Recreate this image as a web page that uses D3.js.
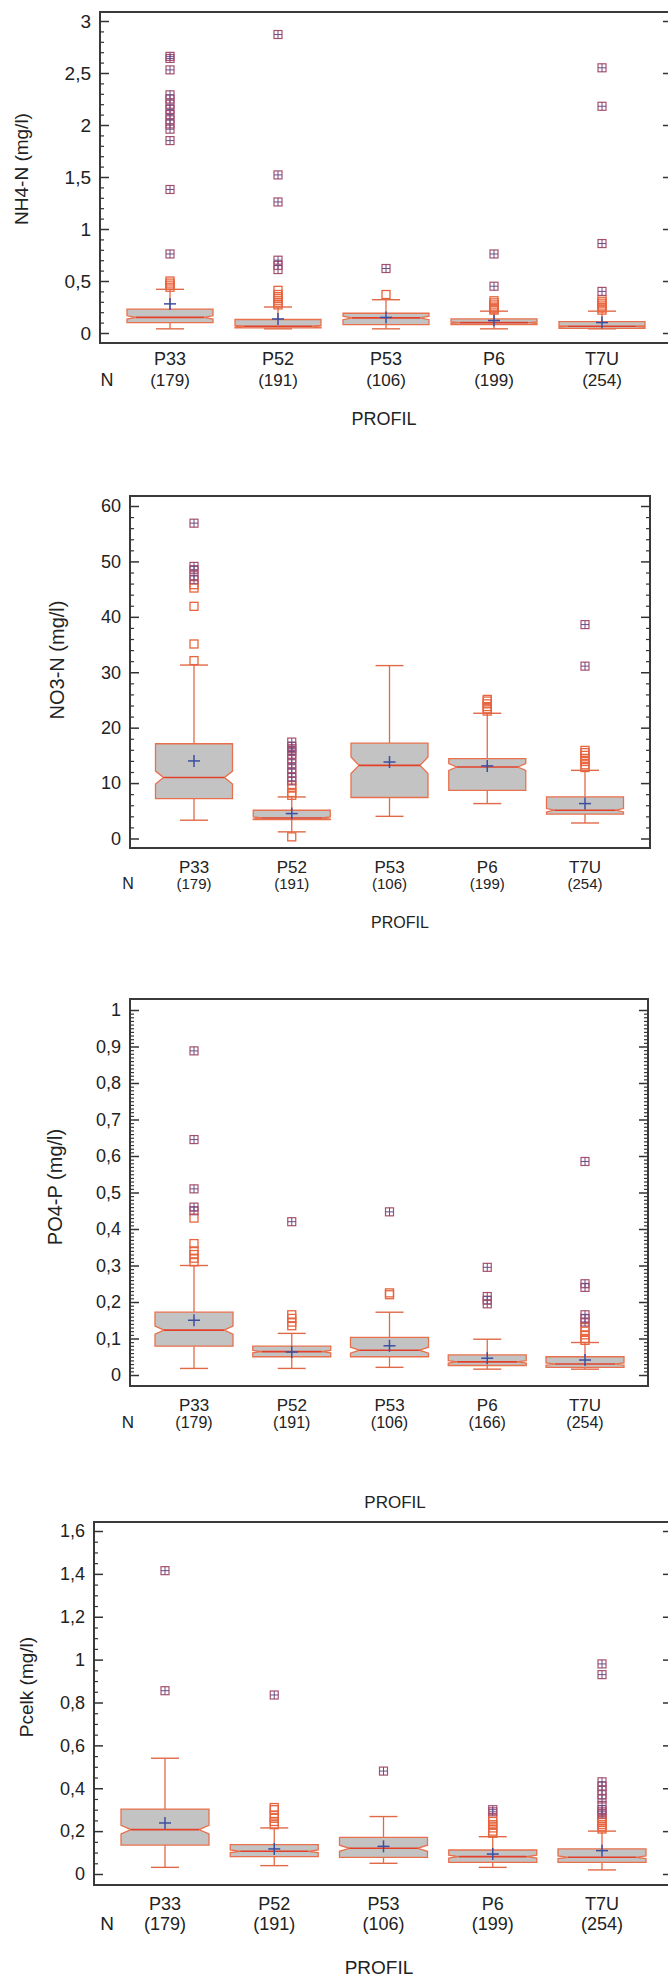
<!DOCTYPE html>
<html><head><meta charset="utf-8">
<script src="https://cdn.jsdelivr.net/npm/d3@7"></script>
<style>
body{margin:0;background:#fff}
svg{display:block}
text{font-family:"Liberation Sans",Arial,sans-serif;fill:#222}
</style>
</head><body>
<svg id="chart" width="668" height="1977"></svg>
<script>
// ---------- data ----------
const categories = ["P33", "P52", "P53", "P6", "T7U"];

// Panel 1: NH4-N (mg/l)
const nh4Counts = [179, 191, 106, 199, 254];
const nh4Q1 = [0.10, 0.05, 0.08, 0.08, 0.045];
const nh4Median = [0.15, 0.065, 0.145, 0.10, 0.065];
const nh4Q3 = [0.23, 0.13, 0.19, 0.135, 0.11];
const nh4WhiskerLow = [0.04, 0.04, 0.04, 0.04, 0.04];
const nh4WhiskerHigh = [0.42, 0.25, 0.32, 0.21, 0.21];
const nh4Mean = [0.28, 0.135, 0.15, 0.12, 0.10];
const nh4Outliers = [
  [0.44, 0.46, 0.48, 0.50],
  [0.27, 0.29, 0.31, 0.33, 0.35, 0.37, 0.41],
  [0.37],
  [0.22, 0.23, 0.24, 0.25, 0.27, 0.29, 0.31],
  [0.22, 0.24, 0.26, 0.28, 0.30, 0.32]
];
const nh4FarOutliers = [
  [0.76, 1.38, 1.85, 1.96, 2.01, 2.05, 2.10, 2.15, 2.20, 2.25, 2.29, 2.53, 2.64, 2.66],
  [0.61, 0.65, 0.70, 1.26, 1.52, 2.87],
  [0.62],
  [0.45, 0.76],
  [0.40, 0.86, 2.18, 2.55]
];
const nh4Ticks = [0, 0.5, 1, 1.5, 2, 2.5, 3];

// Panel 2: NO3-N (mg/l)
const no3Counts = [179, 191, 106, 199, 254];
const no3Q1 = [7.2, 3.4, 7.4, 8.7, 4.4];
const no3Median = [11.0, 3.7, 13.2, 12.9, 5.1];
const no3Q3 = [17.1, 5.1, 17.2, 14.4, 7.5];
const no3WhiskerLow = [3.3, 1.2, 4.0, 6.3, 2.8];
const no3WhiskerHigh = [31.3, 7.5, 31.2, 22.6, 12.3];
const no3Mean = [14.0, 4.5, 13.8, 13.1, 6.3];
const no3Outliers = [
  [32.1, 35.1, 41.9, 45.2, 45.8],
  [0.3, 7.8, 8.3, 9.1, 9.6],
  [],
  [23.0, 23.4, 23.8, 24.3, 24.8, 25.1],
  [12.8, 13.3, 13.9, 14.4, 15.0, 15.5, 15.9]
];
const no3FarOutliers = [
  [46.7, 47.4, 48.5, 49.1, 56.9],
  [10.4, 11.0, 11.8, 12.6, 13.5, 14.4, 15.2, 15.7, 16.2, 16.6, 17.4],
  [],
  [],
  [31.1, 38.6]
];
const no3Ticks = [0, 10, 20, 30, 40, 50, 60];

// Panel 3: PO4-P (mg/l)
const po4Counts = [179, 191, 106, 166, 254];
const po4Q1 = [0.079, 0.05, 0.05, 0.026, 0.021];
const po4Median = [0.123, 0.064, 0.068, 0.036, 0.03];
const po4Q3 = [0.172, 0.079, 0.103, 0.055, 0.05];
const po4WhiskerLow = [0.018, 0.018, 0.021, 0.016, 0.016];
const po4WhiskerHigh = [0.30, 0.114, 0.172, 0.098, 0.089];
const po4Mean = [0.15, 0.063, 0.08, 0.046, 0.041];
const po4Outliers = [
  [0.31, 0.32, 0.33, 0.34, 0.36, 0.43],
  [0.135, 0.145, 0.155, 0.165],
  [0.22, 0.225],
  [],
  [0.095, 0.10, 0.11, 0.12, 0.13]
];
const po4FarOutliers = [
  [0.45, 0.46, 0.51, 0.645, 0.888],
  [0.42],
  [0.447],
  [0.195, 0.205, 0.215, 0.295],
  [0.145, 0.155, 0.165, 0.24, 0.25, 0.585]
];
const po4Ticks = [0, 0.1, 0.2, 0.3, 0.4, 0.5, 0.6, 0.7, 0.8, 0.9, 1];

// Panel 4: Pcelk (mg/l)
const pcelkCounts = [179, 191, 106, 199, 254];
const pcelkQ1 = [0.135, 0.081, 0.078, 0.054, 0.054];
const pcelkMedian = [0.207, 0.106, 0.12, 0.081, 0.078];
const pcelkQ3 = [0.303, 0.137, 0.171, 0.112, 0.117];
const pcelkWhiskerLow = [0.031, 0.039, 0.05, 0.031, 0.019];
const pcelkWhiskerHigh = [0.54, 0.215, 0.268, 0.174, 0.20];
const pcelkMean = [0.238, 0.117, 0.129, 0.093, 0.109];
const pcelkOutliers = [
  [],
  [0.23, 0.245, 0.26, 0.275, 0.30, 0.31],
  [],
  [0.19, 0.20, 0.215, 0.23, 0.245, 0.26],
  [0.21, 0.22, 0.23, 0.24, 0.25, 0.26]
];
const pcelkFarOutliers = [
  [0.855, 1.415],
  [0.835],
  [0.48],
  [0.29, 0.30],
  [0.28, 0.29, 0.30, 0.32, 0.35, 0.37, 0.39, 0.41, 0.43, 0.93, 0.98]
];
const pcelkTicks = [0, 0.2, 0.4, 0.6, 0.8, 1, 1.2, 1.4, 1.6];

const yTitles = ["NH4-N (mg/l)", "NO3-N (mg/l)", "PO4-P (mg/l)", "Pcelk (mg/l)"];
const xTitle = "PROFIL";

// ---------- styling / layout ----------
const C = {
  frame: "#3a3a3a", tick: "#333", boxFill: "#c3c3c3", boxStroke: "#e8704c",
  whisker: "#e06a48", median: "#e3402a", mean: "#3d4fa0",
  outlier: "#e8643e", far: "#a8506e", farPlus: "#6a4c88"
};
const locale = d3.formatLocale({decimal: ",", thousands: ".", grouping: [3], currency: ["", ""]});
const fmt = locale.format("~g");

const panels = [
  {counts: nh4Counts, q1: nh4Q1, med: nh4Median, q3: nh4Q3, wl: nh4WhiskerLow, wh: nh4WhiskerHigh,
   mean: nh4Mean, out: nh4Outliers, far: nh4FarOutliers, ticks: nh4Ticks, minorStep: 0.1, title: yTitles[0],
   left: 100, right: 672, top: 12, bottom: 343, yTop: 21, yZero: 333, xFirst: 170, xLast: 602, boxW: 86,
   titleX: 21, titleY: 169, titleSize: 19, tickSize: 19, catY: 365, nY: 386, nX: 107, catSize: 18, nSize: 17,
   profY: 425, profX: 384, profSize: 18},
  {counts: no3Counts, q1: no3Q1, med: no3Median, q3: no3Q3, wl: no3WhiskerLow, wh: no3WhiskerHigh,
   mean: no3Mean, out: no3Outliers, far: no3FarOutliers, ticks: no3Ticks, minorStep: 2, title: yTitles[1],
   left: 130, right: 650, top: 496, bottom: 848, yTop: 506, yZero: 838.5, xFirst: 194, xLast: 585, boxW: 77,
   titleX: 57, titleY: 660, titleSize: 20, tickSize: 18, catY: 873, nY: 889, nX: 128, catSize: 17, nSize: 15,
   profY: 928, profX: 400, profSize: 16},
  {counts: po4Counts, q1: po4Q1, med: po4Median, q3: po4Q3, wl: po4WhiskerLow, wh: po4WhiskerHigh,
   mean: po4Mean, out: po4Outliers, far: po4FarOutliers, ticks: po4Ticks, minorStep: 0.01, title: yTitles[2],
   left: 130, right: 648, top: 999, bottom: 1386, yTop: 1010, yZero: 1375, xFirst: 194, xLast: 585, boxW: 78,
   titleX: 55, titleY: 1187, titleSize: 20, tickSize: 18, catY: 1411, nY: 1428, nX: 128, catSize: 17, nSize: 16,
   profY: 1508, profX: 395, profSize: 17},
  {counts: pcelkCounts, q1: pcelkQ1, med: pcelkMedian, q3: pcelkQ3, wl: pcelkWhiskerLow, wh: pcelkWhiskerHigh,
   mean: pcelkMean, out: pcelkOutliers, far: pcelkFarOutliers, ticks: pcelkTicks, minorStep: 0.05, title: yTitles[3],
   left: 94, right: 672, top: 1522, bottom: 1885, yTop: 1531, yZero: 1874, xFirst: 165, xLast: 602, boxW: 88,
   titleX: 26, titleY: 1687, titleSize: 19, tickSize: 18, catY: 1910, nY: 1930, nX: 107, catSize: 18, nSize: 18,
   profY: 1974, profX: 379, profSize: 19}
];

const svg = d3.select("#chart");

function drawPanel(p) {
  const g = svg.append("g");
  const maxTick = p.ticks[p.ticks.length - 1];
  const x = d3.scalePoint().domain(categories).range([p.xFirst, p.xLast]);
  const y = d3.scaleLinear().domain([0, maxTick]).range([p.yZero, p.yTop]);
  const minor = d3.range(0, maxTick + p.minorStep / 2, p.minorStep)
    .map(v => +v.toFixed(4))
    .filter(v => !p.ticks.some(t => Math.abs(t - v) < 1e-9));

  // frame
  g.append("rect").attr("x", p.left).attr("y", p.top)
    .attr("width", p.right - p.left).attr("height", p.bottom - p.top)
    .attr("fill", "none").attr("stroke", C.frame).attr("stroke-width", 2);

  // left axis (inward ticks, labels outside)
  const la = g.append("g").attr("transform", `translate(${p.left},0)`)
    .call(d3.axisLeft(y).tickValues(p.ticks).tickSize(-9).tickPadding(9).tickFormat(fmt));
  la.select(".domain").remove();
  la.selectAll("line").attr("stroke", C.tick).attr("stroke-width", 1.5);
  la.selectAll("text").attr("font-size", p.tickSize).attr("fill", "#222")
    .attr("font-family", '"Liberation Sans",Arial,sans-serif');
  const lm = g.append("g").attr("transform", `translate(${p.left},0)`)
    .call(d3.axisLeft(y).tickValues(minor).tickSize(-4).tickFormat(""));
  lm.select(".domain").remove();
  lm.selectAll("line").attr("stroke", C.tick).attr("stroke-width", 1.2);

  // right axis
  const ra = g.append("g").attr("transform", `translate(${p.right},0)`)
    .call(d3.axisRight(y).tickValues(p.ticks).tickSize(-9).tickFormat(""));
  ra.select(".domain").remove();
  ra.selectAll("line").attr("stroke", C.tick).attr("stroke-width", 1.5);
  const rm = g.append("g").attr("transform", `translate(${p.right},0)`)
    .call(d3.axisRight(y).tickValues(minor).tickSize(-4).tickFormat(""));
  rm.select(".domain").remove();
  rm.selectAll("line").attr("stroke", C.tick).attr("stroke-width", 1.2);

  const hw = p.boxW / 2, ind = Math.round(p.boxW * 0.11), cap = 14, sq = 8;

  categories.forEach((cat, i) => {
    const cx = x(cat);
    const q1 = p.q1[i], q3 = p.q3[i], md = p.med[i];
    const nd = 1.57 * (q3 - q1) / Math.sqrt(p.counts[i]);
    const nLo = md - nd, nHi = md + nd;
    const bg = g.append("g");

    // whiskers
    bg.append("line").attr("x1", cx).attr("x2", cx).attr("y1", y(q3)).attr("y2", y(p.wh[i]))
      .attr("stroke", C.whisker).attr("stroke-width", 1.3);
    bg.append("line").attr("x1", cx).attr("x2", cx).attr("y1", y(q1)).attr("y2", y(p.wl[i]))
      .attr("stroke", C.whisker).attr("stroke-width", 1.3);
    [p.wh[i], p.wl[i]].forEach(v => {
      bg.append("line").attr("x1", cx - cap).attr("x2", cx + cap).attr("y1", y(v)).attr("y2", y(v))
        .attr("stroke", C.whisker).attr("stroke-width", 1.4);
    });

    // notched box
    const path = d3.path();
    path.moveTo(cx - hw, y(q3));
    path.lineTo(cx + hw, y(q3));
    path.lineTo(cx + hw, y(nHi));
    path.lineTo(cx + hw - ind, y(md));
    path.lineTo(cx + hw, y(nLo));
    path.lineTo(cx + hw, y(q1));
    path.lineTo(cx - hw, y(q1));
    path.lineTo(cx - hw, y(nLo));
    path.lineTo(cx - hw + ind, y(md));
    path.lineTo(cx - hw, y(nHi));
    path.closePath();
    bg.append("path").attr("d", path.toString()).attr("fill", C.boxFill)
      .attr("stroke", C.boxStroke).attr("stroke-width", 1.3).attr("stroke-linejoin", "miter");

    // median
    bg.append("line").attr("x1", cx - hw + ind).attr("x2", cx + hw - ind)
      .attr("y1", y(md)).attr("y2", y(md)).attr("stroke", C.median).attr("stroke-width", 1.6);

    // mean
    const my = y(p.mean[i]);
    bg.append("line").attr("x1", cx - 6).attr("x2", cx + 6).attr("y1", my).attr("y2", my)
      .attr("stroke", C.mean).attr("stroke-width", 1.5);
    bg.append("line").attr("x1", cx).attr("x2", cx).attr("y1", my - 6).attr("y2", my + 6)
      .attr("stroke", C.mean).attr("stroke-width", 1.5);

    // outliers (open squares)
    bg.selectAll(null).data(p.out[i]).enter().append("rect")
      .attr("x", cx - sq / 2).attr("y", d => y(d) - sq / 2).attr("width", sq).attr("height", sq)
      .attr("fill", "none").attr("stroke", C.outlier).attr("stroke-width", 1.3);

    // far outliers (squares with plus)
    const fg = bg.selectAll(null).data(p.far[i]).enter().append("g")
      .attr("transform", d => `translate(${cx},${y(d)})`);
    fg.append("rect").attr("x", -sq / 2).attr("y", -sq / 2).attr("width", sq).attr("height", sq)
      .attr("fill", "none").attr("stroke", C.far).attr("stroke-width", 1.2);
    fg.append("line").attr("x1", -sq / 2).attr("x2", sq / 2).attr("y1", 0).attr("y2", 0)
      .attr("stroke", C.farPlus).attr("stroke-width", 1);
    fg.append("line").attr("x1", 0).attr("x2", 0).attr("y1", -sq / 2).attr("y2", sq / 2)
      .attr("stroke", C.farPlus).attr("stroke-width", 1);

    // category labels
    g.append("text").attr("x", cx).attr("y", p.catY).attr("text-anchor", "middle")
      .attr("font-size", p.catSize).text(cat);
    g.append("text").attr("x", cx).attr("y", p.nY).attr("text-anchor", "middle")
      .attr("font-size", p.nSize).text(`(${p.counts[i]})`);
  });

  g.append("text").attr("x", p.nX).attr("y", p.nY).attr("text-anchor", "middle")
    .attr("font-size", p.nSize + 1).text("N");
  g.append("text").attr("x", p.profX).attr("y", p.profY).attr("text-anchor", "middle")
    .attr("font-size", p.profSize).text(xTitle);
  g.append("text").attr("transform", `translate(${p.titleX},${p.titleY}) rotate(-90)`)
    .attr("text-anchor", "middle").attr("dominant-baseline", "central")
    .attr("font-size", p.titleSize).text(p.title);
}

panels.forEach(drawPanel);
</script>
</body></html>
